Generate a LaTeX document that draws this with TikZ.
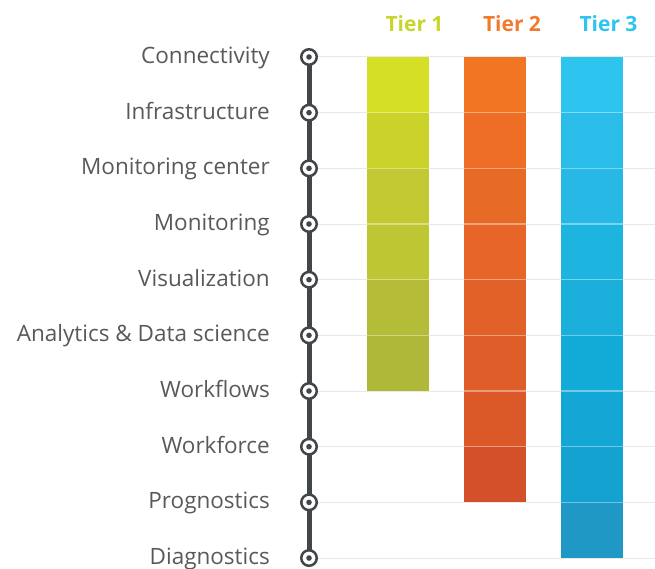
\documentclass[tikz,border=0pt]{standalone}
\usepackage{fontspec}
\setmainfont{Open Sans}
\begin{document}
\begin{tikzpicture}[x=1pt,y=-1pt,
  lbl/.style={anchor=base east,text=labelgray,font=\fontsize{22.5}{26}\selectfont,inner sep=0pt},
  tier/.style={anchor=base,font=\bfseries\fontsize{21}{25}\selectfont,inner sep=0pt},
  dotmark/.style={circle,draw=spine,line width=2.5pt,fill=white,minimum size=15.5pt,inner sep=0pt},
  grid/.style={draw=gridgray,line width=1pt},
  sep/.style={draw=white,draw opacity=0.4,line width=1.2pt}]
\definecolor{labelgray}{HTML}{595959}
\definecolor{spine}{HTML}{414748}
\definecolor{gridgray}{HTML}{E8E8E8}
\definecolor{tA}{HTML}{C8D62B}
\definecolor{tB}{HTML}{F07A2E}
\definecolor{tC}{HTML}{2EC4EF}
\useasboundingbox (0,0) rectangle (655,569);
% rows
\foreach \i/\t in {1/Connectivity,2/Infrastructure,3/Monitoring center,4/Monitoring,5/Visualization,6/Analytics \& Data science,7/Workflows,8/Workforce,9/Prognostics,10/Diagnostics}{
  \pgfmathsetmacro\yy{57+(\i-1)*55.67}
  \draw[grid] (318,\yy) -- (655,\yy);
  \node[lbl] (l\i) at (270,\yy+6.5) {\t};
}
% bars
\def\tierbar#1#2#3{%
  \foreach \c [count=\k] in {#3}{
    \pgfmathsetmacro\ya{57+(\k-1)*55.67}
    \pgfmathsetmacro\yb{57+\k*55.67}
    \definecolor{segc}{HTML}{\c}
    \fill[segc] (#1,\ya) rectangle (#2,\yb);
  }
  \foreach \c [count=\k] in {#3}{
    \ifnum\k>1
    \pgfmathsetmacro\ya{57+(\k-1)*55.67}
    \draw[sep] (#1,\ya) -- (#2,\ya);
    \fi
  }
}
\tierbar{367}{429}{D4DF26,CBD32B,C3C932,BEC634,B5BC38,AFB838}
\tierbar{464}{526}{F27524,EE6E25,E86A27,E66527,E26128,DF5D28,DB5929,D4502A}
\tierbar{561}{623}{2DC4EF,2ABDEA,28B8E6,1DB4E0,1BAFDC,12ABD8,14A6D4,14A3D0,2098C5}
% tier labels
\node[tier,text=tA] (t1) at (414.5,32) {Tier 1};
\node[tier,text=tB] (t2) at (512,32) {Tier 2};
\node[tier,text=tC] (t3) at (608.5,32) {Tier 3};
% spine and markers
\foreach \i in {1,...,10}{
  \pgfmathsetmacro\yy{57+(\i-1)*55.67}
  \coordinate (m\i) at (309,\yy);
}
\draw[spine,line width=5pt] (m1) -- (m10);
\foreach \i in {1,...,10}{
  \node[dotmark] (k\i) at (m\i) {};
  \fill[spine] (k\i.center) circle (2.8);
}
\end{tikzpicture}
\end{document}
